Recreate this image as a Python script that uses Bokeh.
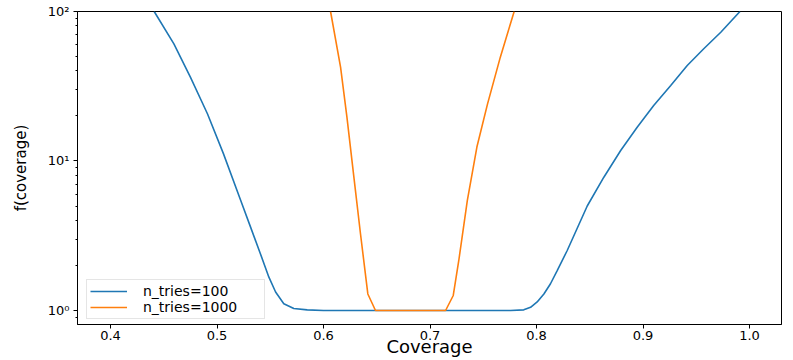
from bokeh.plotting import figure
from bokeh.models import Range1d, FixedTicker
from bokeh.embed import file_html
from bokeh.resources import INLINE

# ---- data ----
cov_100 = [0.441, 0.4595, 0.475, 0.491, 0.506, 0.522, 0.5315, 0.5408, 0.5487, 0.555,
           0.5627, 0.5721, 0.5847, 0.60, 0.65, 0.72, 0.7756, 0.788, 0.7944, 0.8006,
           0.8069, 0.8131, 0.8194, 0.8288, 0.8382, 0.8476, 0.8632, 0.879, 0.8945,
           0.910, 0.926, 0.9415, 0.957, 0.973, 0.991]
f_100 = [100, 60.8, 36.4, 20.7, 11.2, 5.5, 3.61, 2.39, 1.67, 1.33,
         1.11, 1.03, 1.01, 1.0, 1.0, 1.0, 1.0, 1.01, 1.05, 1.14,
         1.29, 1.51, 1.85, 2.52, 3.55, 5.0, 7.79, 11.75, 16.8,
         23.5, 32.0, 43.5, 56.3, 72.7, 100]

cov_1000 = [0.6066, 0.616, 0.622, 0.6285, 0.6347, 0.6416, 0.6488, 0.7146,
            0.7218, 0.727, 0.735, 0.744, 0.754, 0.766, 0.779]
f_1000 = [100, 42.4, 19.6, 7.79, 3.26, 1.29, 1.0, 1.0,
          1.26, 2.16, 5.44, 12.4, 24.1, 49.5, 100]

series_labels = ["n_tries=100", "n_tries=1000"]
series_colors = ["#1f77b4", "#ff7f0e"]

x_ticks = [0.4, 0.5, 0.6, 0.7, 0.8, 0.9, 1.0]
x_tick_labels = ["0.4", "0.5", "0.6", "0.7", "0.8", "0.9", "1.0"]
y_ticks = [1, 10, 100]
y_tick_labels = ["10\u2070", "10\u00b9", "10\u00b2"]
y_minor = [m * 10.0 ** e for e in (-1, 0, 1) for m in range(2, 10)]
x_title = "Coverage"
y_title = "f(coverage)"

FONT = "DejaVu Sans"

p = figure(width=793, height=360, y_axis_type="log",
           x_range=Range1d(0.369, 1.030), y_range=Range1d(0.806, 100),
           output_backend="svg", toolbar_location=None,
           min_border_left=77, min_border_right=12,
           min_border_top=11, min_border_bottom=36)

p.line(cov_100, f_100, line_color=series_colors[0], line_width=1.6,
       legend_label=series_labels[0])
p.line(cov_1000, f_1000, line_color=series_colors[1], line_width=1.6,
       legend_label=series_labels[1])

p.xgrid.visible = False
p.ygrid.visible = False
p.outline_line_color = "black"
p.outline_line_width = 1
p.outline_line_alpha = 1
p.background_fill_color = "white"
p.border_fill_color = "white"

# x axis
p.xaxis.ticker = FixedTicker(ticks=x_ticks)
p.xaxis.major_label_overrides = dict(zip(x_ticks, x_tick_labels))
p.xaxis.axis_label = x_title
p.xaxis.minor_tick_in = 0
p.xaxis.minor_tick_out = 0

# y axis
p.yaxis.ticker = FixedTicker(ticks=y_ticks, minor_ticks=y_minor)
p.yaxis.major_label_overrides = dict(zip(y_ticks, y_tick_labels))
p.yaxis.axis_label = y_title
p.yaxis.minor_tick_in = 0
p.yaxis.minor_tick_out = 2

for ax in (p.xaxis, p.yaxis):
    ax.axis_line_color = "black"
    ax.major_tick_line_color = "black"
    ax.minor_tick_line_color = "black"
    ax.major_tick_in = 0
    ax.major_tick_out = 4
    ax.major_label_text_font = FONT
    ax.major_label_text_font_size = "13px"
    ax.major_label_text_color = "black"
    ax.axis_label_text_font = FONT
    ax.axis_label_text_font_style = "normal"
    ax.axis_label_text_color = "black"

p.xaxis.major_label_standoff = 2
p.xaxis.axis_label_text_font_size = "18px"
p.xaxis.axis_label_standoff = -7
p.yaxis.major_label_standoff = 4
p.yaxis.axis_label_text_font_size = "15px"
p.yaxis.axis_label_standoff = 15

lg = p.legend[0]
lg.location = (9, 5)
lg.label_text_font = FONT
lg.label_text_font_size = "14px"
lg.label_text_color = "black"
lg.glyph_width = 37
lg.glyph_height = 14
lg.label_height = 14
lg.label_width = 118
lg.label_standoff = 16
lg.spacing = 0
lg.padding = 3
lg.margin = 0
lg.border_line_color = "#cccccc"
lg.border_line_width = 1
lg.background_fill_alpha = 0.8

open("out.html", "w").write(file_html(p, INLINE))
